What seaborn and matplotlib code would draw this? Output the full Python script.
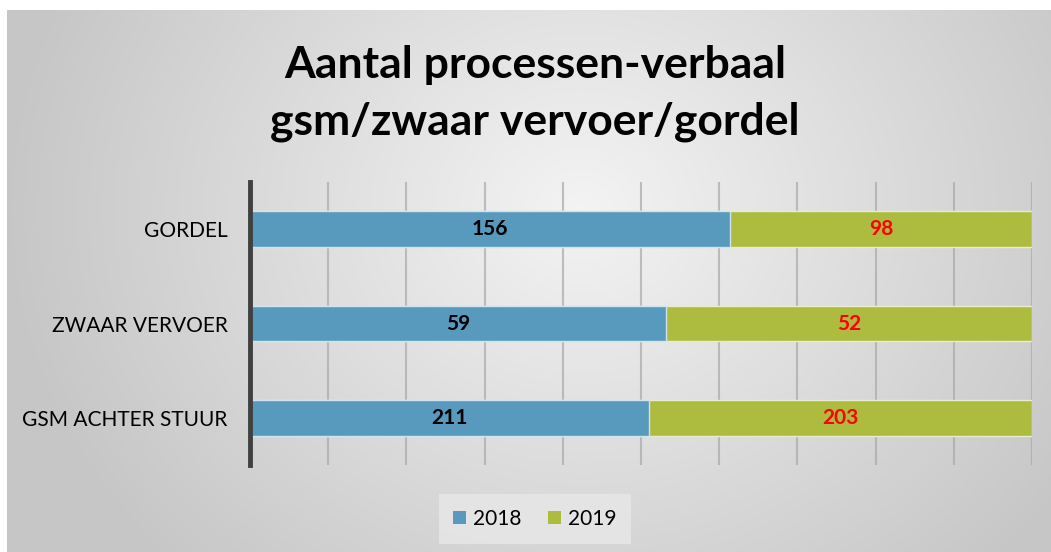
import numpy as np
import pandas as pd
import seaborn as sns
import matplotlib.pyplot as plt
from matplotlib.patches import Patch

categories = ['GORDEL', 'ZWAAR VERVOER', 'GSM ACHTER STUUR']
values_2018 = [156, 59, 211]
values_2019 = [98, 52, 203]
years = ['2018', '2019']
colors = {'2018': '#5899BE', '2019': '#ADBC3E'}

df = pd.DataFrame({'Categorie': categories, '2018': values_2018, '2019': values_2019})
df['totaal'] = df['2018'] + df['2019']
df['pct_2018'] = df['2018'] / df['totaal'] * 100
df['pct_totaal'] = 100.0

sns.set_style('white')
plt.rcParams['font.family'] = ['Lato', 'DejaVu Sans']
plt.rcParams['text.color'] = 'black'
plt.rcParams['ytick.color'] = 'black'

fig = plt.figure(figsize=(10.51, 5.52), dpi=100)
fig.patch.set_facecolor('white')

# radial gradient background
bg = fig.add_axes([7 / 1051, 0, 1 - 7 / 1051, 1 - 10 / 552])
yy, xx = np.mgrid[0:300, 0:600]
cx, cy = 330, 110
r = np.sqrt(((xx - cx) / 600) ** 2 + ((yy - cy) / 300) ** 2 * 0.35)
grad = 0.955 - 0.32 * r
grad = np.clip(grad, 0.78, 0.955)
bg.imshow(np.dstack([grad] * 3), aspect='auto', interpolation='bilinear')
bg.set_axis_off()
bg.set_zorder(-10)

ax = fig.add_axes([250 / 1051, 1 - 465 / 552, (1032 - 250) / 1051, (465 - 182) / 552])
ax.patch.set_alpha(0)

sns.barplot(data=df, x='pct_totaal', y='Categorie', order=categories, color=colors['2019'],
            width=0.375, edgecolor='#E8EDD0', linewidth=1, ax=ax, zorder=3, saturation=1)
sns.barplot(data=df, x='pct_2018', y='Categorie', order=categories, color=colors['2018'],
            width=0.375, edgecolor='#D0E3EE', linewidth=1, ax=ax, zorder=4, saturation=1)

for i, row in df.iterrows():
    p = row['pct_2018']
    ax.text(p / 2, i, str(row['2018']), ha='center', va='center', fontsize=15,
            fontweight='bold', color='black', zorder=6)
    ax.text(p + (100 - p) / 2, i, str(row['2019']), ha='center', va='center', fontsize=15,
            fontweight='bold', color='red', zorder=6)

ax.set_xlim(0, 100)
ax.set_ylim(2.5, -0.5)
ax.set_xticks(np.arange(0, 101, 10))
ax.set_xticklabels([])
ax.grid(axis='x', color='#A8A8A8', linewidth=1.5, alpha=0.7, zorder=1)
ax.set_axisbelow(True)
ax.set_xlabel('')
ax.set_ylabel('')
ax.tick_params(axis='y', length=0, labelsize=15, pad=16, labelcolor='black')
ax.tick_params(axis='x', length=0)
for s in ['top', 'right', 'bottom']:
    ax.spines[s].set_visible(False)
ax.spines['left'].set_color('#404040')
ax.spines['left'].set_linewidth(3.5)
ax.spines['left'].set_zorder(7)

fig.text(0.509, 0.83, 'Aantal processen-verbaal\ngsm/zwaar vervoer/gordel', ha='center',
         va='center', fontsize=32, fontweight='bold', linespacing=1.5, color='black')

handles = [Patch(facecolor=colors[y], edgecolor='none') for y in years]
leg = fig.legend(handles, years, loc='center', bbox_to_anchor=(535 / 1051, 1 - 519 / 552),
                 ncol=2, frameon=True, fontsize=15, handlelength=0.6, handleheight=0.6,
                 handletextpad=0.35, columnspacing=1.3, borderpad=0.7, fancybox=False)
leg.get_frame().set_facecolor('#E8E8E8')
leg.get_frame().set_edgecolor('none')

fig.savefig('out.png', dpi=100)
